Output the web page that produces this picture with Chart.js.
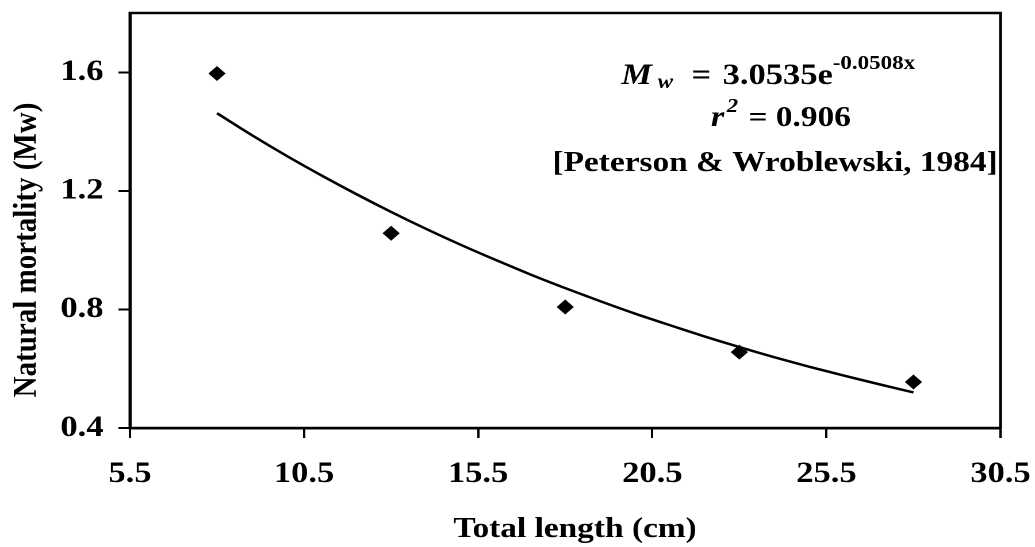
<!DOCTYPE html>
<html>
<head>
<meta charset="utf-8">
<script src="https://cdn.jsdelivr.net/npm/chart.js@4.4.0/dist/chart.umd.min.js"></script>
<style>
  html, body { margin: 0; padding: 0; background: #fff; overflow: hidden; }
  #wrap { width: 900px; height: 547px; transform: scaleX(1.15); transform-origin: 0 0; }
  #chart { width: 900px; height: 547px; display: block; }
</style>
</head>
<body>
<div id="wrap"><canvas id="chart" width="900" height="547"></canvas></div>
<script>
// observed points: natural mortality by length class
const lengthClasses = [8, 13, 18, 23, 28];
const mortality = [1.596, 1.057, 0.808, 0.656, 0.555];

// fitted curve, every 1 cm
const trendLength = [8, 9, 10, 11, 12, 13, 14, 15, 16, 17, 18, 19, 20, 21, 22, 23, 24, 25, 26, 27, 28];
const trendMortality = [1.462, 1.388, 1.318, 1.252, 1.189, 1.129, 1.072, 1.018, 0.967, 0.918, 0.872,
                        0.828, 0.786, 0.747, 0.709, 0.673, 0.639, 0.607, 0.577, 0.548, 0.520];

const xTickValues = [5.5, 10.5, 15.5, 20.5, 25.5, 30.5];
const yTickValues = [0.4, 0.8, 1.2, 1.6];

const FONT = '"Liberation Serif", "Times New Roman", serif';
const BLACK = '#000';

function drawRuns(ctx, runs, cx, y) {
    let total = 0;
    const widths = runs.map(r => {
        ctx.font = r.font;
        const w = ctx.measureText(r.text).width + (r.gap || 0);
        total += w;
        return w;
    });
    let x = cx - total / 2;
    runs.forEach((r, i) => {
        ctx.font = r.font;
        ctx.fillText(r.text, x, y + (r.dy || 0));
        x += widths[i];
    });
}

const framePlugin = {
    id: 'frame',
    afterDraw(chart) {
        const ctx = chart.ctx;
        const a = chart.chartArea;
        ctx.save();
        ctx.strokeStyle = BLACK;
        ctx.lineWidth = 2.5;
        ctx.strokeRect(a.left, a.top, a.right - a.left, a.bottom - a.top);

        ctx.fillStyle = BLACK;
        ctx.textAlign = 'left';
        ctx.textBaseline = 'alphabetic';
        const big = 'bold 29px ' + FONT;
        const bigIt = 'italic bold 30px ' + FONT;
        const small = 'bold 20px ' + FONT;
        const smallIt = 'italic bold 20px ' + FONT;

        drawRuns(ctx, [
            { text: 'M', font: bigIt, gap: 5 },
            { text: 'w', font: smallIt, dy: 4, gap: 16 },
            { text: '=', font: 'bold 30px ' + FONT, gap: 10 },
            { text: '3.0535e', font: 'bold 30px ' + FONT },
            { text: '-0.0508x', font: small, dy: -15 }
        ], 668, 84);

        drawRuns(ctx, [
            { text: 'r', font: bigIt, gap: 2 },
            { text: '2', font: smallIt, dy: -14, gap: 9 },
            { text: '= 0.906', font: big }
        ], 679, 126);

        drawRuns(ctx, [
            { text: '[Peterson & Wroblewski, 1984]', font: big }
        ], 674, 171);

        // axis titles
        ctx.font = big;
        ctx.textAlign = 'center';
        ctx.fillText('Total length (cm)', 500, 537);

        ctx.translate(31, 250);
        ctx.rotate(-Math.PI / 2);
        ctx.fillText('Natural mortality (Mw)', 0, 0);
        ctx.restore();
    }
};

const ctx = document.getElementById('chart').getContext('2d');
new Chart(ctx, {
    type: 'scatter',
    data: {
        datasets: [
            {
                label: 'Mw',
                data: lengthClasses.map((x, i) => ({ x: x, y: mortality[i] })),
                pointStyle: 'rectRot',
                pointRadius: 7.5,
                backgroundColor: BLACK,
                borderColor: BLACK,
                borderWidth: 0,
                showLine: false
            },
            {
                label: 'Trend',
                data: trendLength.map((x, i) => ({ x: x, y: trendMortality[i] })),
                showLine: true,
                pointRadius: 0,
                borderColor: BLACK,
                borderWidth: 2.5,
                tension: 0.3,
                fill: false
            }
        ]
    },
    options: {
        responsive: false,
        animation: false,
        devicePixelRatio: 2,
        layout: { padding: { left: 0, right: 30, top: 13, bottom: 0 } },
        plugins: {
            legend: { display: false },
            tooltip: { enabled: false },
            title: { display: false }
        },
        scales: {
            x: {
                type: 'linear',
                min: 5.5,
                max: 30.5,
                afterBuildTicks: s => { s.ticks = xTickValues.map(v => ({ value: v })); },
                afterFit: s => { s.height = 119; s.paddingLeft = 0; s.paddingRight = 0; },
                ticks: {
                    autoSkip: false,
                    maxRotation: 0,
                    padding: 18,
                    color: BLACK,
                    font: { family: FONT, size: 30, weight: 'bold' },
                    callback: v => Number(v).toFixed(1)
                },
                grid: { drawOnChartArea: false, drawTicks: true, tickLength: 10, tickWidth: 2, tickColor: BLACK },
                border: { display: true, color: BLACK, width: 2.5 }
            },
            y: {
                min: 0.4,
                max: 1.8,
                afterBuildTicks: s => { s.ticks = yTickValues.map(v => ({ value: v })); },
                afterFit: s => { s.width = 113; s.paddingTop = 0; s.paddingBottom = 0; },
                ticks: {
                    padding: 13,
                    color: BLACK,
                    font: { family: FONT, size: 30, weight: 'bold' },
                    callback: v => Number(v).toFixed(1)
                },
                grid: { drawOnChartArea: false, drawTicks: true, tickLength: 10, tickWidth: 2, tickColor: BLACK },
                border: { display: true, color: BLACK, width: 2.5 }
            }
        }
    },
    plugins: [framePlugin]
});
</script>
</body>
</html>
